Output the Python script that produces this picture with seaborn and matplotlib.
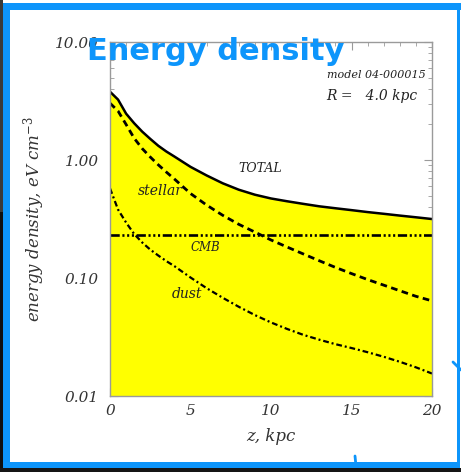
import numpy as np
import seaborn as sns
import matplotlib.pyplot as plt
from matplotlib.patches import Rectangle
from matplotlib.lines import Line2D
from matplotlib.ticker import FixedLocator, FixedFormatter, MultipleLocator

# values (z in kpc, energy density in eV cm^-3)
z = [0, 0.5, 1, 1.5, 2, 2.5, 3, 3.5, 4, 5, 6, 7, 8, 9, 10,
     11, 12, 13, 14, 15, 16, 17, 18, 19, 20]
total = [3.79, 3.25, 2.47, 2.05, 1.74, 1.51, 1.32, 1.18, 1.07, 0.875, 0.74,
         0.635, 0.56, 0.508, 0.472, 0.447, 0.425, 0.405, 0.39, 0.376, 0.362,
         0.35, 0.338, 0.327, 0.316]
stellar = [3.03, 2.6, 2.0, 1.53, 1.25, 1.06, 0.91, 0.79, 0.69, 0.52, 0.415,
           0.34, 0.285, 0.245, 0.21, 0.183, 0.16, 0.14, 0.123, 0.109, 0.097,
           0.087, 0.078, 0.07, 0.064]
cmb = [0.231] * len(z)
dust = [0.575, 0.38, 0.295, 0.236, 0.2, 0.174, 0.155, 0.139, 0.126, 0.101,
        0.082, 0.068, 0.057, 0.0485, 0.042, 0.037, 0.033, 0.030, 0.0275,
        0.0255, 0.0235, 0.0215, 0.0195, 0.0175, 0.0155]

ytick_vals = [0.01, 0.1, 1, 10]
ytick_labels = ["0.01", "0.10", "1.00", "10.00"]
xtick_vals = [0, 5, 10, 15, 20]

sns.set_style("ticks")
plt.rcParams["font.family"] = ["DejaVu Serif"]
plt.rcParams["mathtext.fontset"] = "dejavuserif"

W, H = 461, 472
fig = plt.figure(figsize=(W / 100, H / 100), dpi=100)
fig.patch.set_facecolor("white")


def px_rect(x0, y0, x1, y1, color):
    fig.patches.append(Rectangle((x0 / W, 1 - y1 / H), (x1 - x0) / W, (y1 - y0) / H,
                                 transform=fig.transFigure, color=color, lw=0, zorder=-5))


# slide frame
blue = "#0d95fb"
px_rect(0, 0, 3, 212, "#3a3a3a")
px_rect(0, 212, 3, 472, "#101010")
px_rect(0, 468, 461, 472, "#151515")
px_rect(3, 3, 10, 468, blue)
px_rect(3, 3, 461, 10, blue)
px_rect(457, 3, 460, 468, blue)
px_rect(3, 462, 460, 468, blue)
for (xa, ya, xb, yb) in [(453, 362, 461, 370), (355, 456, 356, 466)]:
    fig.lines.append(Line2D([xa / W, xb / W], [1 - ya / H, 1 - yb / H],
                            transform=fig.transFigure, color=blue, lw=2))

ax = fig.add_axes([110 / W, 1 - 396 / H, 322 / W, 354 / H])
ax.set_yscale("log")
ax.set_xlim(0, 20)
ax.set_ylim(0.01, 10)

ax.fill_between(z, total, 0.01, color="#ffff00", lw=0, zorder=1)
sns.lineplot(x=z, y=total, ax=ax, color="black", lw=1.8, zorder=3)
sns.lineplot(x=z, y=stellar, ax=ax, color="black", lw=2.0,
             linestyle=(0, (2.4, 1.6)), zorder=3)
sns.lineplot(x=z, y=cmb, ax=ax, color="black", lw=1.9,
             linestyle=(0, (3.5, 1.0, 0.8, 1.0, 0.8, 1.0, 0.8, 1.0)), zorder=3)
sns.lineplot(x=z, y=dust, ax=ax, color="black", lw=1.6,
             linestyle=(0, (2.6, 1.3, 0.9, 1.3)), zorder=3)

gray = "#9a9a9a"
for sp in ax.spines.values():
    sp.set_visible(True)
    sp.set_color(gray)
    sp.set_linewidth(1.0)
    sp.set_zorder(4)

ax.yaxis.set_major_locator(FixedLocator(ytick_vals))
ax.yaxis.set_major_formatter(FixedFormatter(ytick_labels))
ax.xaxis.set_major_locator(FixedLocator(xtick_vals))
ax.xaxis.set_minor_locator(MultipleLocator(1))
ax.tick_params(which="both", direction="in", top=True, right=True, color=gray,
               labelcolor="#333333", labelsize=11)
ax.tick_params(which="major", length=6, width=0.8)
ax.tick_params(which="minor", length=3, width=0.6)
ax.tick_params(axis="y", pad=8)
ax.tick_params(axis="x", pad=6)
for lab in ax.get_xticklabels() + ax.get_yticklabels():
    lab.set_fontstyle("italic")

ax.set_xlabel("z, kpc", fontsize=12, style="italic", color="#333333", labelpad=7)
ax.set_ylabel("energy density, eV cm$^{-3}$", fontsize=12, style="italic",
              color="#333333", labelpad=6)

txt = dict(style="italic", color="#222222", ha="center", va="center", zorder=5)
ax.text(9.3, 0.84, "TOTAL", fontsize=9, **txt)
ax.text(3.1, 0.55, "stellar", fontsize=10, **txt)
ax.text(5.9, 0.183, "CMB", fontsize=8.5, **txt)
ax.text(4.8, 0.073, "dust", fontsize=10, **txt)
ax.text(19.6, 5.25, "model 04-000015", fontsize=8, style="italic",
        color="#222222", ha="right", va="center")
ax.text(19.1, 3.48, "R =   4.0 kpc", fontsize=10, style="italic",
        color="#222222", ha="right", va="center")

fig.text(216 / W, 1 - 52 / H, "Energy density", fontsize=22, fontweight="bold",
         family="DejaVu Sans", color=blue, ha="center", va="center", zorder=10)

fig.savefig("out.png", dpi=100)
